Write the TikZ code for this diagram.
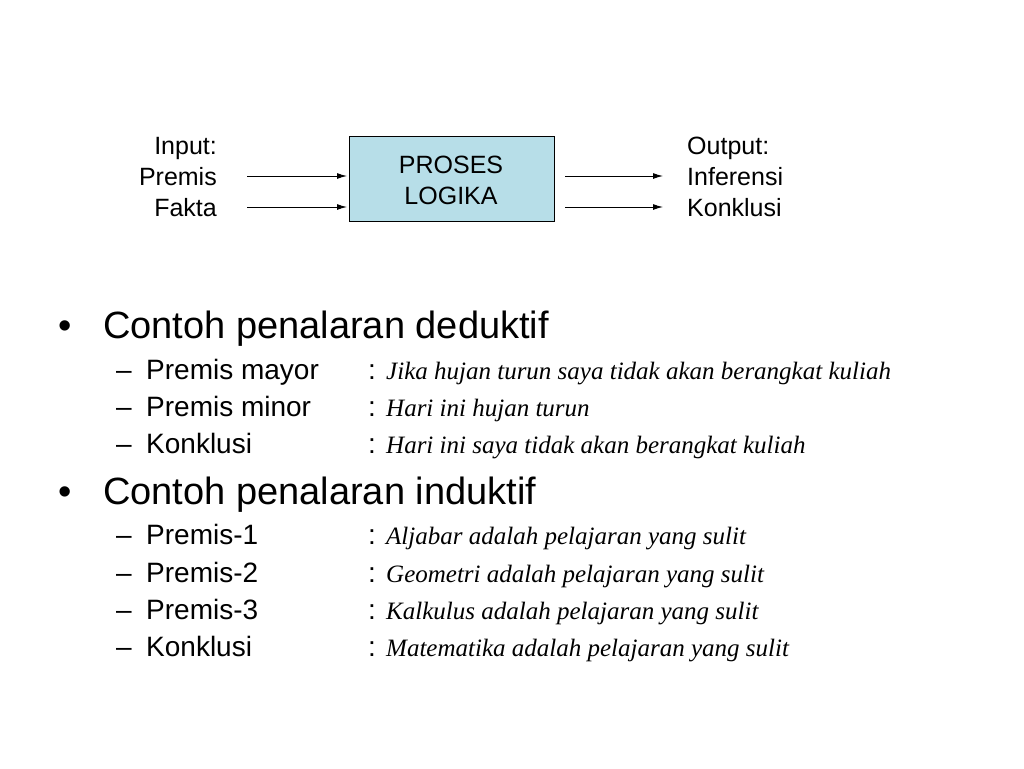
\documentclass[tikz,border=0pt]{standalone}
\usepackage{fontspec}
\setmainfont{Liberation Sans}
\newfontfamily\serifit{Liberation Serif}
\usetikzlibrary{arrows.meta}
\begin{document}
\begin{tikzpicture}[x=1pt,y=-1pt,
 lab/.style={inner sep=0pt,font=\fontsize{25}{31}\selectfont},
 arr/.style={-{Latex[length=10pt,width=6pt]},line width=1pt},
 big/.style={anchor=base west,inner sep=0pt,font=\fontsize{38}{42}\selectfont},
 sub/.style={anchor=base west,inner sep=0pt,font=\fontsize{28}{32}\selectfont},
 it/.style={anchor=base west,inner sep=0pt,font=\serifit\itshape\fontsize{25}{30}\selectfont}]
\useasboundingbox (0,0) rectangle (1024,768);
\node[draw,line width=0.8pt,fill={rgb,255:red,183;green,222;blue,232},minimum width=205,minimum height=85,anchor=north west] (box) at (349,136) {};
\node[lab,align=center] (pt) at (451,180) {PROSES\\LOGIKA};
\node[lab,anchor=base east] (i1) at (217,154) {Input:};
\node[lab,anchor=base east] (i2) at (217,185) {Premis};
\node[lab,anchor=base east] (i3) at (217,216) {Fakta};
\node[lab,anchor=base west] (o1) at (687,154) {Output:};
\node[lab,anchor=base west] (o2) at (687,185) {Inferensi};
\node[lab,anchor=base west] (o3) at (687,216) {Konklusi};
\coordinate (a1) at (247,176); \coordinate (b1) at (347,176);
\coordinate (a2) at (247,207); \coordinate (b2) at (347,207);
\coordinate (c1) at (565,176); \coordinate (d1) at (663,176);
\coordinate (c2) at (565,207); \coordinate (d2) at (663,207);
\draw[arr] (a1) -- (b1); \draw[arr] (a2) -- (b2);
\draw[arr] (c1) -- (d1); \draw[arr] (c2) -- (d2);
\node[big] (bu1) at (58,338) {•};
\node[big] (t1) at (103,338) {Contoh penalaran deduktif};
\node[big] (bu2) at (58,504) {•};
\node[big] (t2) at (103,504) {Contoh penalaran induktif};
\foreach \y/\a/\b [count=\i] in {379/Premis mayor/Jika hujan turun saya tidak akan berangkat kuliah,
 416/Premis minor/Hari ini hujan turun,
 453/Konklusi/Hari ini saya tidak akan berangkat kuliah,
 544/Premis-1/Aljabar adalah pelajaran yang sulit,
 582/Premis-2/Geometri adalah pelajaran yang sulit,
 619/Premis-3/Kalkulus adalah pelajaran yang sulit,
 656/Konklusi/Matematika adalah pelajaran yang sulit}{
 \node[sub] (d\i) at (116,\y) {–};
 \node[sub] (s\i) at (146,\y) {\a};
 \node[sub] (c\i) at (368,\y) {:};
 \node[it] (e\i) at (386,\y) {\b};
}
\end{tikzpicture}
\end{document}
